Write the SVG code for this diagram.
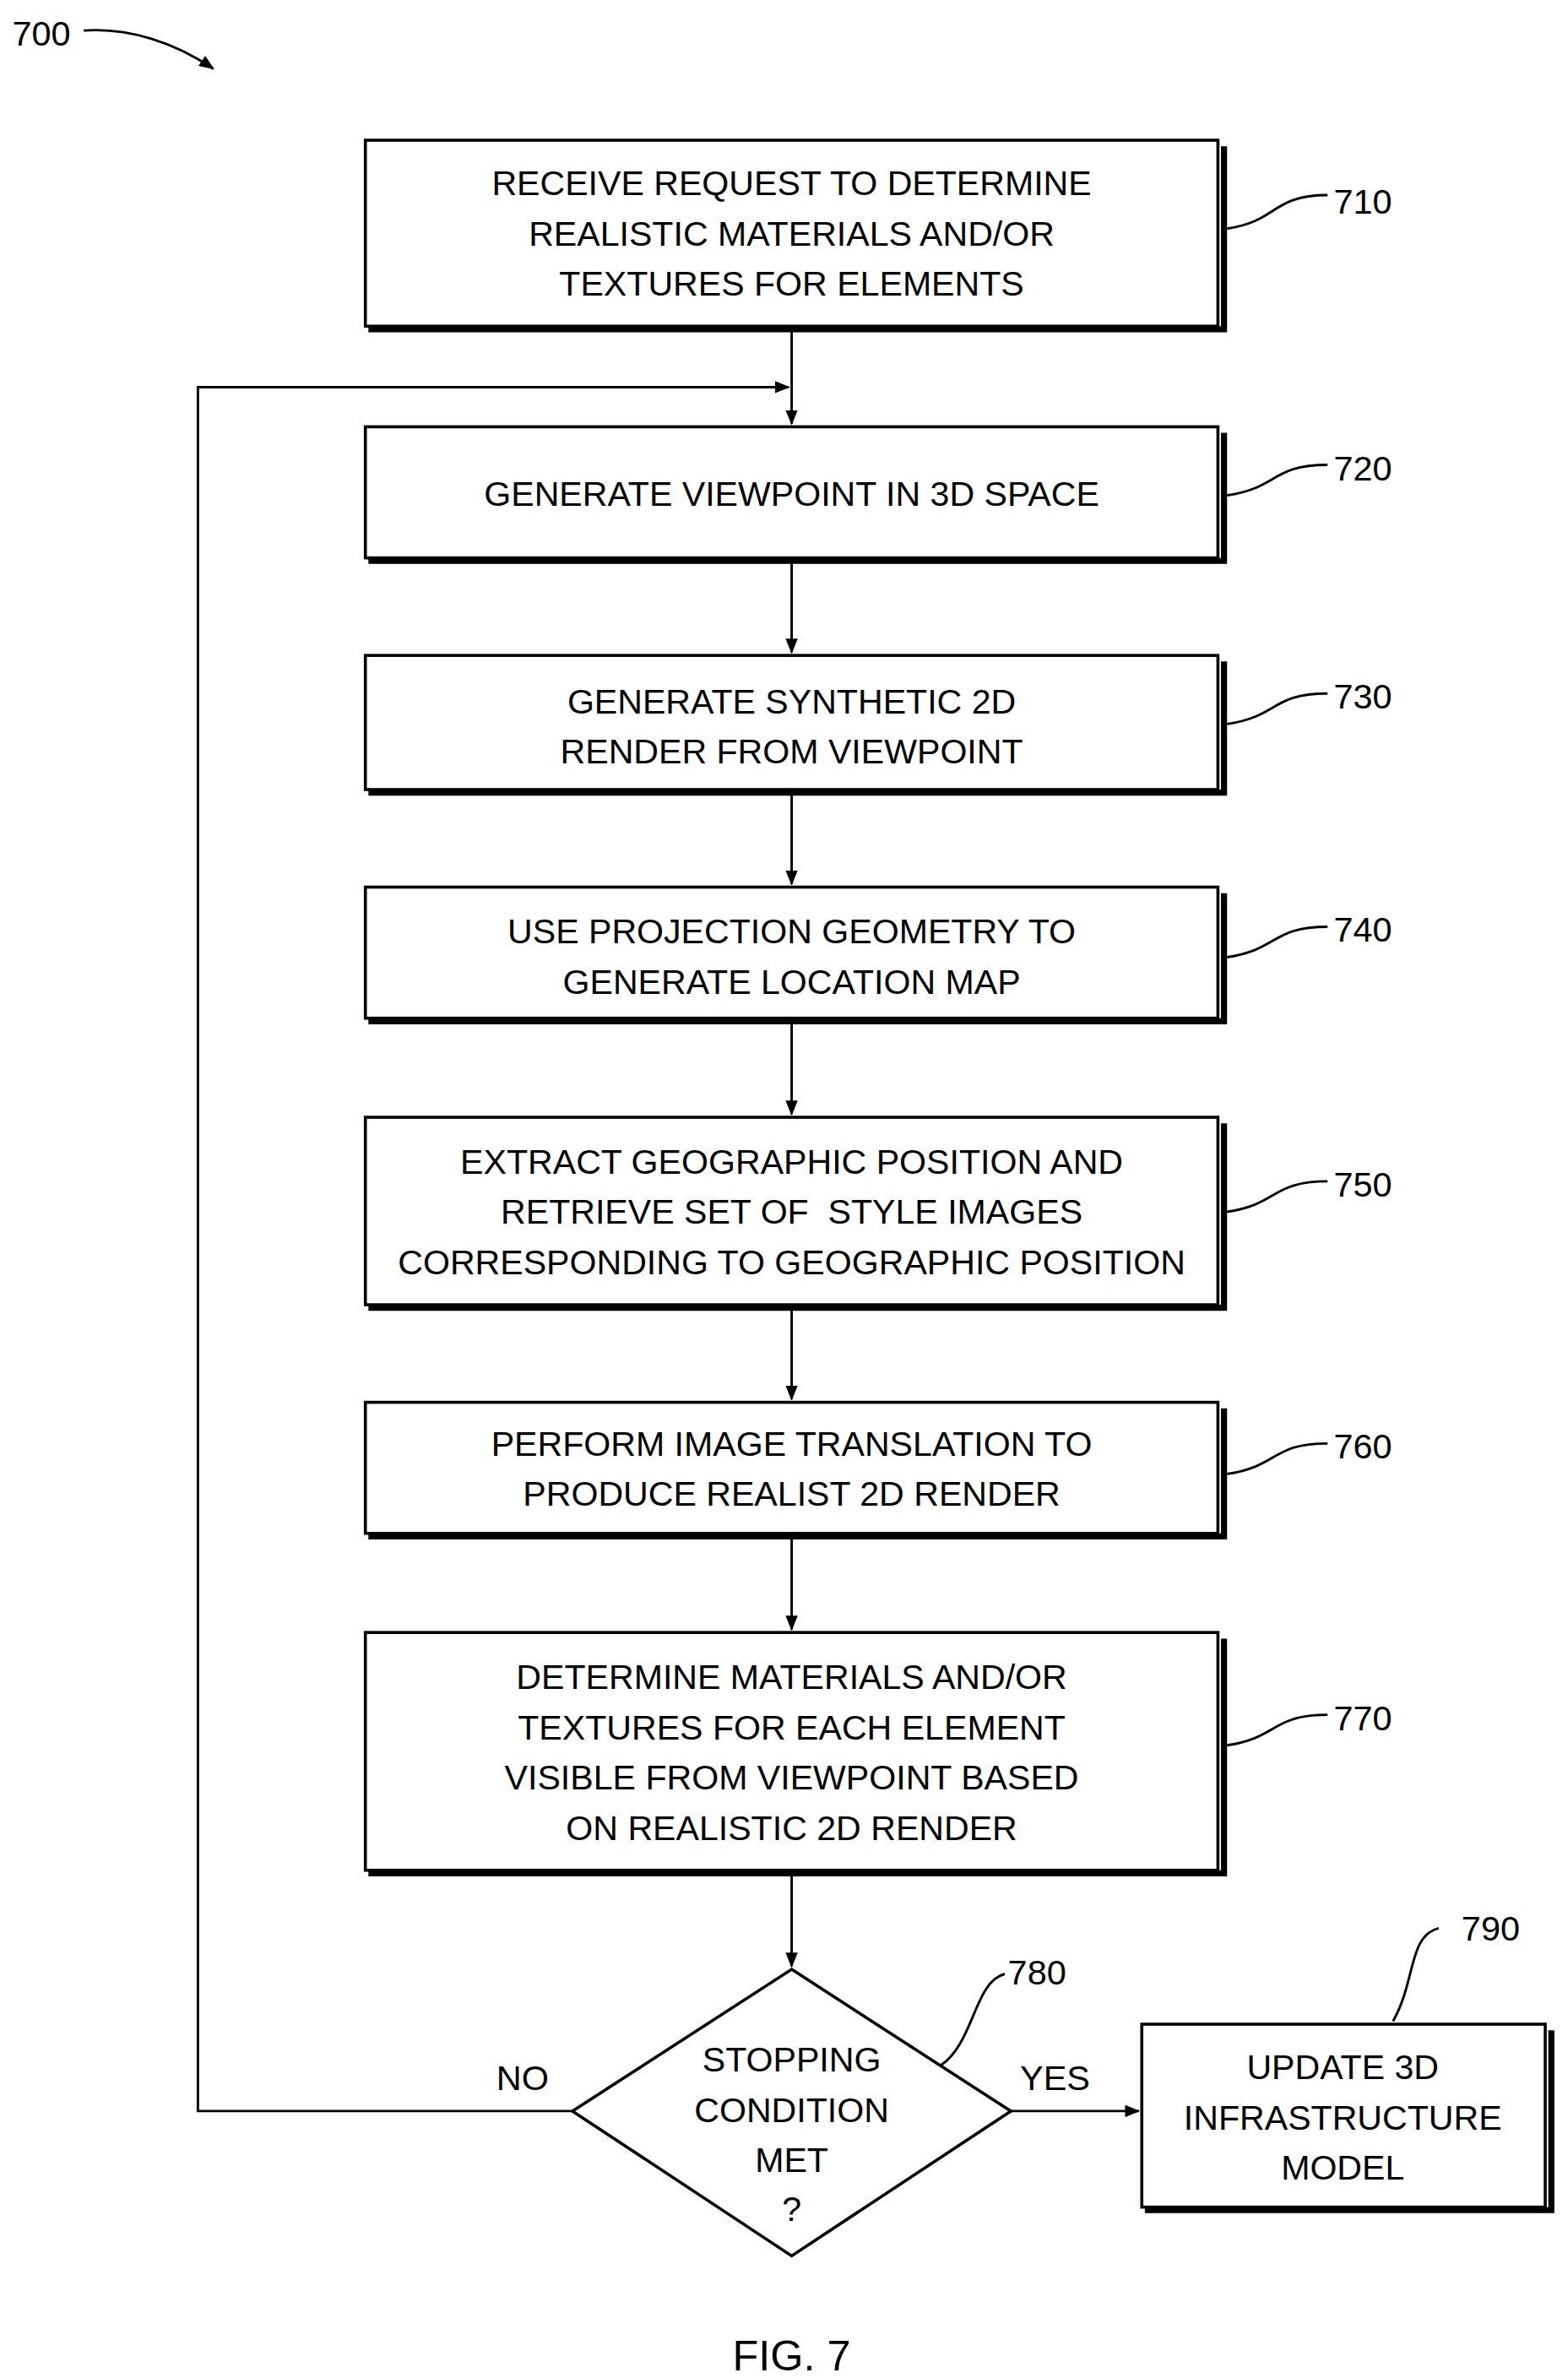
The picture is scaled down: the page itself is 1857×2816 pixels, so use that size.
<svg xmlns="http://www.w3.org/2000/svg" width="1857" height="2816" viewBox="0 0 1857 2816">
<style>
.b{fill:#fff;stroke:#000;stroke-width:2}
.s{fill:none;stroke:#000;stroke-width:4}
.t{font-family:"Liberation Sans",Arial,sans-serif;font-size:22.8px;text-anchor:middle;fill:#000;white-space:pre}
.r{font-family:"Liberation Sans",Arial,sans-serif;font-size:23px;fill:#000}
.c{fill:none;stroke:#000;stroke-width:1.6}
</style>
<defs><marker id="a" markerWidth="10" markerHeight="8" refX="9" refY="4" orient="auto" markerUnits="userSpaceOnUse"><path d="M0,0L10,4L0,8z"/></marker></defs>
<rect width="1857" height="2816" fill="#fff"/>
<g transform="scale(1.803,1.805)">
<g id="connectors" class="c">
<path d="M520,216V278" marker-end="url(#a)"/>
<path d="M376,1385H130V254H518" marker-end="url(#a)"/>
<path d="M520,368V428" marker-end="url(#a)"/>
<path d="M520,520V580" marker-end="url(#a)"/>
<path d="M520,670V731" marker-end="url(#a)"/>
<path d="M520,858V918" marker-end="url(#a)"/>
<path d="M520,1008V1069" marker-end="url(#a)"/>
<path d="M520,1229V1290" marker-end="url(#a)"/>
<path d="M664,1385H748" marker-end="url(#a)"/>
<path d="M55,20C85,18 115,28 140,45" marker-end="url(#a)"/>
<path d="M806,150C840,145 835,128 872,128"/>
<path d="M806,325C840,320 835,305 872,305"/>
<path d="M806,475C840,470 835,455 872,455"/>
<path d="M806,628C840,623 835,608 872,608"/>
<path d="M806,795C840,790 835,775 872,775"/>
<path d="M806,967C840,962 835,947 872,947"/>
<path d="M806,1145C840,1140 835,1125 872,1125"/>
<path d="M618,1355C640,1340 640,1300 660,1295"/>
<path d="M915,1326C930,1300 925,1270 945,1265"/>
</g>
<text class="r" x="8" y="30">700</text>
<g id="n710"><path class="s" d="M242,216H804V96"/><rect class="b" x="240" y="92" width="560" height="122"/>
<text class="t" x="520" y="128">RECEIVE REQUEST TO DETERMINE</text><text class="t" x="520" y="161">REALISTIC MATERIALS AND/OR</text><text class="t" x="520" y="194">TEXTURES FOR ELEMENTS</text><text class="r" x="876" y="140">710</text></g>
<g id="n720"><path class="s" d="M242,368H804V284"/><rect class="b" x="240" y="280" width="560" height="86"/>
<text class="t" x="520" y="332">GENERATE VIEWPOINT IN 3D SPACE</text><text class="r" x="876" y="315">720</text></g>
<g id="n730"><path class="s" d="M242,520H804V434"/><rect class="b" x="240" y="430" width="560" height="88"/>
<text class="t" x="520" y="468">GENERATE SYNTHETIC 2D</text><text class="t" x="520" y="501">RENDER FROM VIEWPOINT</text><text class="r" x="876" y="465">730</text></g>
<g id="n740"><path class="s" d="M242,670H804V586"/><rect class="b" x="240" y="582" width="560" height="86"/>
<text class="t" x="520" y="619">USE PROJECTION GEOMETRY TO</text><text class="t" x="520" y="652">GENERATE LOCATION MAP</text><text class="r" x="876" y="618">740</text></g>
<g id="n750"><path class="s" d="M242,858H804V737"/><rect class="b" x="240" y="733" width="560" height="123"/>
<text class="t" x="520" y="770">EXTRACT GEOGRAPHIC POSITION AND</text><text class="t" x="520" y="803">RETRIEVE SET OF  STYLE IMAGES</text><text class="t" x="520" y="836">CORRESPONDING TO GEOGRAPHIC POSITION</text><text class="r" x="876" y="785">750</text></g>
<g id="n760"><path class="s" d="M242,1008H804V924"/><rect class="b" x="240" y="920" width="560" height="86"/>
<text class="t" x="520" y="955">PERFORM IMAGE TRANSLATION TO</text><text class="t" x="520" y="988">PRODUCE REALIST 2D RENDER</text><text class="r" x="876" y="957">760</text></g>
<g id="n770"><path class="s" d="M242,1229H804V1075"/><rect class="b" x="240" y="1071" width="560" height="156"/>
<text class="t" x="520" y="1108">DETERMINE MATERIALS AND/OR</text><text class="t" x="520" y="1141">TEXTURES FOR EACH ELEMENT</text><text class="t" x="520" y="1174">VISIBLE FROM VIEWPOINT BASED</text><text class="t" x="520" y="1207">ON REALISTIC 2D RENDER</text><text class="r" x="876" y="1135">770</text></g>
<g id="n780"><path class="b" d="M520,1292L664,1385L520,1480L376,1385Z"/>
<text class="t" x="520" y="1359">STOPPING</text><text class="t" x="520" y="1392">CONDITION</text><text class="t" x="520" y="1425">MET</text><text class="t" x="520" y="1457">?</text><text class="r" x="662" y="1302">780</text>
<text class="r" x="326" y="1371">NO</text><text class="r" x="670" y="1371">YES</text></g>
<g id="n790"><path class="s" d="M752,1450H1019V1332"/><rect class="b" x="750" y="1328" width="265" height="120"/>
<text class="t" x="882" y="1364">UPDATE 3D</text><text class="t" x="882" y="1397">INFRASTRUCTURE</text><text class="t" x="882" y="1430">MODEL</text><text class="r" x="960" y="1273">790</text></g>
<text class="t" x="520" y="1555" style="font-size:28px">FIG. 7</text>
</g>
</svg>
